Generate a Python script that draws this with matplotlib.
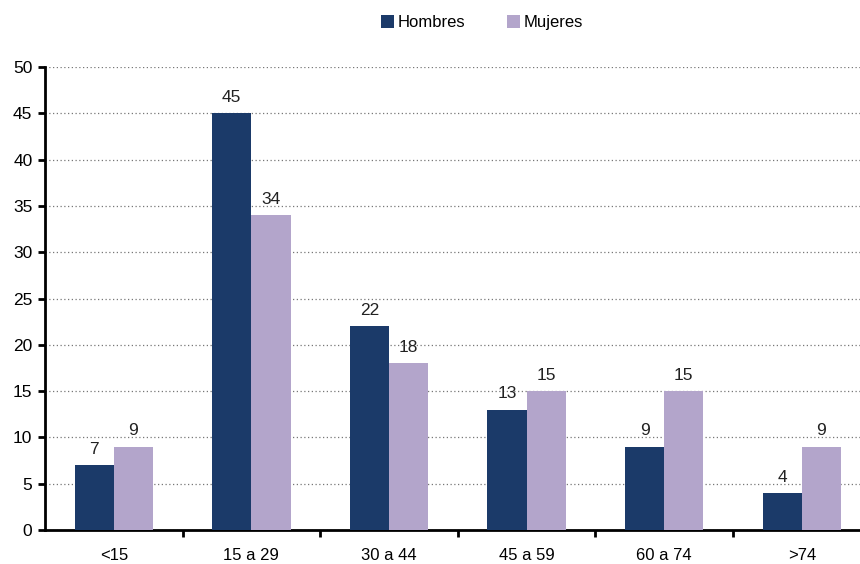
import numpy as np
import matplotlib.pyplot as plt

plt.rcParams['font.family'] = ['Liberation Sans', 'DejaVu Sans']

categorias = ['<15', '15 a 29', '30 a 44', '45 a 59', '60 a 74', '>74']
hombres = [7, 45, 22, 13, 9, 4]
mujeres = [9, 34, 18, 15, 15, 9]

c_hombres = '#1b3a69'
c_mujeres = '#b3a5cb'

fig = plt.figure(figsize=(8.6, 5.64), dpi=100)
ax = fig.add_axes([0.0523, 0.0603, 0.96, 0.8207])

x = np.arange(len(categorias))
w = 0.285
b1 = ax.bar(x - w / 2, hombres, w, color=c_hombres, label='Hombres', zorder=3)
b2 = ax.bar(x + w / 2, mujeres, w, color=c_mujeres, label='Mujeres', zorder=3)

for bars, vals in ((b1, hombres), (b2, mujeres)):
    for r, v in zip(bars, vals):
        ax.text(r.get_x() + r.get_width() / 2, v + 0.9, str(v),
                ha='center', va='bottom', fontsize=12.5, color='#222222')

ax.set_xlim(-0.5, len(categorias) - 0.5)
ax.set_ylim(0, 50)
ax.set_yticks(np.arange(0, 51, 5))
ax.yaxis.grid(True, linestyle=(0, (1, 2)), color='#777777', linewidth=0.9, zorder=0)

ax.set_xticks(x)
ax.set_xticklabels(categorias)
ax.tick_params(axis='x', which='major', length=0, pad=13, labelsize=12)
ax.set_xticks(np.arange(0.5, len(categorias) - 0.5, 1), minor=True)
ax.tick_params(axis='x', which='minor', length=5, width=2, direction='out')
ax.tick_params(axis='y', length=5, width=2, direction='out', labelsize=12.5, pad=4)

for s in ('top', 'right'):
    ax.spines[s].set_visible(False)
ax.spines['left'].set_linewidth(2)
ax.spines['bottom'].set_linewidth(2)

fig.legend(loc='upper center', bbox_to_anchor=(0.56, 1.0), ncol=2, frameon=False,
           fontsize=12, handlelength=0.8, handleheight=0.8, handletextpad=0.2,
           columnspacing=2.5)

fig.savefig('out.png', dpi=100)
